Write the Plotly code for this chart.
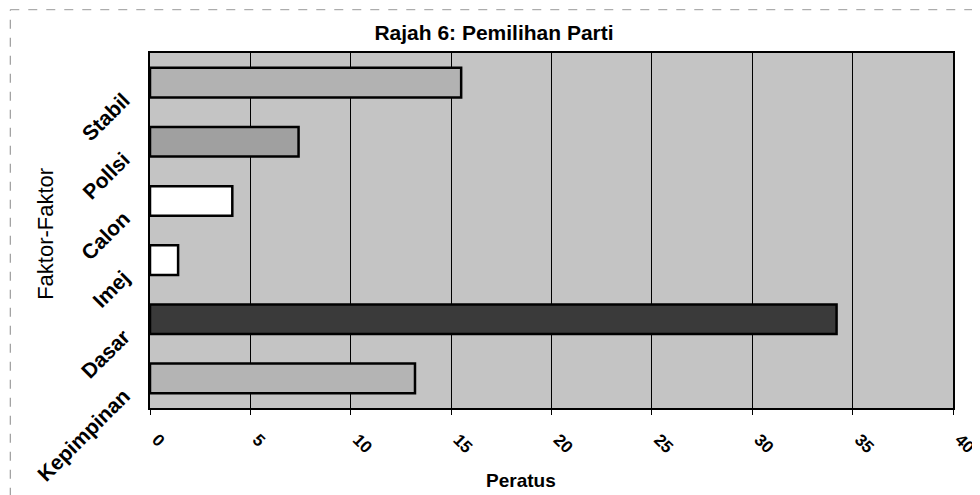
import plotly.graph_objects as go

faktor = ['Stabil', 'Pollsi', 'Calon', 'Imej', 'Dasar', 'Kepimpinan']
peratus = [15.5, 7.4, 4.1, 1.4, 34.2, 13.2]
warna = ['#b2b2b2', '#a0a0a0', '#ffffff', '#ffffff', '#3a3a3a', '#b4b4b4']
x_ticks = [0, 5, 10, 15, 20, 25, 30, 35, 40]

fig = go.Figure()
fig.add_trace(go.Bar(
    y=faktor, x=peratus, orientation='h',
    marker=dict(color=warna, line=dict(color='black', width=2.5)),
    showlegend=False
))

# page body adds 8px, so the figure is 8px smaller and margins shifted
fig.update_layout(
    width=972, height=487,
    margin=dict(l=142, r=27, t=45, b=87, autoexpand=False),
    paper_bgcolor='white',
    plot_bgcolor='#c4c4c4',
    bargap=0.5,
    font=dict(family='Liberation Sans, Arial, sans-serif', color='black', size=17),
    title=dict(text='<b>Rajah 6: Pemilihan Parti</b>', x=0.5, xanchor='center',
               y=0.949, yanchor='middle', font=dict(size=21)),
    annotations=[
        dict(text='Faktor-Faktor', xref='paper', yref='paper', x=-0.131, y=0.49,
             textangle=-90, showarrow=False, font=dict(size=22),
             xanchor='center', yanchor='middle'),
        dict(text='<b>Peratus</b>', xref='paper', yref='paper', x=0.462, y=-0.203,
             showarrow=False, font=dict(size=19), xanchor='center', yanchor='middle'),
    ],
    shapes=[
        dict(type='line', xref='paper', yref='paper', x0=-0.174, x1=1.04, y0=1.122, y1=1.122,
             line=dict(color='#999999', width=1, dash='dash')),
        dict(type='line', xref='paper', yref='paper', x0=-0.174, x1=-0.174, y0=-0.25, y1=1.122,
             line=dict(color='#888888', width=1, dash='dash')),
    ],
)

fig.update_xaxes(
    range=[0, 40], tickvals=x_ticks, ticktext=[str(v) for v in x_ticks],
    tickangle=45, ticks='outside', ticklen=5, tickcolor='black',
    showgrid=True, gridcolor='black', gridwidth=1,
    showline=True, linecolor='black', linewidth=2, mirror=True,
    zeroline=False, tickfont=dict(size=17, weight='bold'),
    ticklabelstandoff=8, ticklabelshift=7,
)
fig.update_yaxes(
    autorange='reversed', tickangle=-45, ticks='', tickfont=dict(size=21, weight='bold'),
    showline=True, linecolor='black', linewidth=2, mirror=True,
    ticklabelstandoff=20, ticklabelshift=-15,
)

fig.write_html("out.html")
